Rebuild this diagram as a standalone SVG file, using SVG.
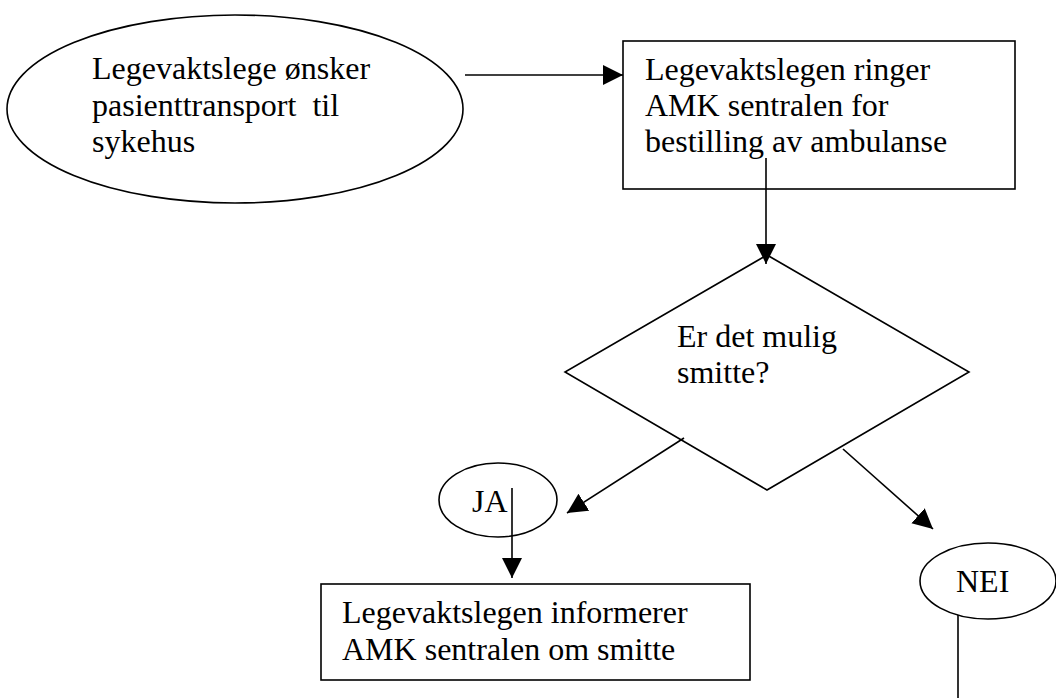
<svg xmlns="http://www.w3.org/2000/svg" width="1056" height="698" viewBox="0 0 1056 698">
<style>
.s{fill:#fff;stroke:#000;stroke-width:1.6}
.t{font-family:"Liberation Serif","Times New Roman",serif;font-size:32px;fill:#000;white-space:pre}
.c{fill:none;stroke:#000;stroke-width:1.6}
</style>
<defs>
<marker id="ah" markerUnits="userSpaceOnUse" markerWidth="21" markerHeight="21" refX="20" refY="10" orient="auto" viewBox="0 0 21 21">
<path d="M0,0 L20,10 L0,20 z" fill="#000"/>
</marker>
</defs>
<rect width="1056" height="698" fill="#fff"/>
<g id="start">
<ellipse class="s" cx="235" cy="109" rx="228" ry="94"/>
<text class="t" x="92" y="79">Legevaktslege ønsker</text>
<text class="t" x="92" y="116" xml:space="preserve">pasienttransport  til</text>
<text class="t" x="92" y="152">sykehus</text>
</g>
<g id="ring">
<rect class="s" x="623" y="41" width="392" height="148"/>
<text class="t" x="645" y="80">Legevaktslegen ringer</text>
<text class="t" x="645" y="116">AMK sentralen for</text>
<text class="t" x="645" y="152">bestilling av ambulanse</text>
</g>
<g id="decision">
<polygon class="s" points="767,255 969,372 767,490 565,372"/>
<text class="t" x="677" y="347">Er det mulig</text>
<text class="t" x="677" y="383">smitte?</text>
</g>
<g id="ja">
<ellipse class="s" cx="498" cy="500" rx="59" ry="37"/>
<text class="t" x="472" y="512">JA</text>
</g>
<g id="inform">
<rect class="s" x="321" y="584" width="429" height="96"/>
<text class="t" x="342" y="623">Legevaktslegen informerer</text>
<text class="t" x="342" y="660">AMK sentralen om smitte</text>
</g>
<g id="nei">
<ellipse class="s" cx="988" cy="581" rx="68" ry="38"/>
<text class="t" x="956" y="592">NEI</text>
</g>
<g id="connectors">
<line class="c" x1="465" y1="75" x2="623" y2="75" marker-end="url(#ah)"/>
<line class="c" x1="766" y1="158" x2="766" y2="264" marker-end="url(#ah)"/>
<line class="c" x1="684" y1="438" x2="567" y2="513" marker-end="url(#ah)"/>
<line class="c" x1="843" y1="449" x2="933" y2="529" marker-end="url(#ah)"/>
<line class="c" x1="512" y1="488" x2="512" y2="578" marker-end="url(#ah)"/>
<line class="c" x1="958" y1="615" x2="958" y2="698"/>
</g>
</svg>
